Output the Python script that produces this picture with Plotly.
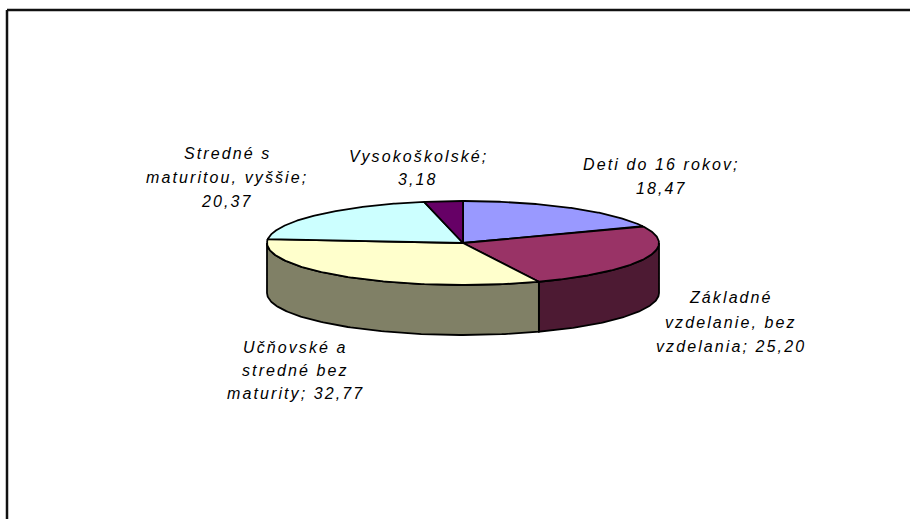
import numpy as np
import plotly.graph_objects as go

# Population by education level (share in %), one entry per slice, clockwise from 12 o'clock
name_lines = [
    ["Deti do 16 rokov"],
    ["Základné", "vzdelanie, bez", "vzdelania"],
    ["Učňovské a", "stredné bez", "maturity"],
    ["Stredné s", "maturitou, vyššie"],
    ["Vysokoškolské"],
]
shares = [18.47, 25.20, 32.77, 20.37, 3.18]
value_on_own_line = [True, False, False, True, True]

top_colors = ["#9999FF", "#993366", "#FFFFCC", "#CCFFFF", "#660066"]
side_colors = ["#4D4D80", "#4D1A33", "#808066", "#668080", "#330033"]

# label anchors: centre x, centre y of first line, line pitch
label_pos = [(661, 164, 24), (731, 297.5, 24.5), (295, 347, 23), (227, 153, 24), (418, 156.5, 23)]

W, H = 910, 519
CX, CY, RX, RY, DEPTH = 463, 243, 196, 42, 50
EDGE = dict(color="black", width=1.8)


def ellipse(theta_deg, dy=0.0):
    t = np.radians(theta_deg)
    return CX + RX * np.sin(t), CY - RY * np.cos(t) + dy


total = sum(shares)
bounds = np.concatenate([[0.0], np.cumsum(shares)]) / total * 360.0

fig = go.Figure()

# side walls (front half of the disc only)
for i in range(len(shares)):
    lo, hi = max(bounds[i], 90.0), min(bounds[i + 1], 270.0)
    if lo >= hi:
        continue
    th = np.linspace(lo, hi, 120)
    xt, yt = ellipse(th)
    xb, yb = ellipse(th[::-1], DEPTH)
    fig.add_trace(go.Scatter(
        x=np.concatenate([xt, xb, xt[:1]]), y=np.concatenate([yt, yb, yt[:1]]),
        mode="lines", fill="toself", fillcolor=side_colors[i], line=EDGE,
        hoverinfo="skip", showlegend=False))

# top faces
for i in range(len(shares)):
    th = np.linspace(bounds[i], bounds[i + 1], 160)
    xa, ya = ellipse(th)
    fig.add_trace(go.Scatter(
        x=np.concatenate([[CX], xa, [CX]]), y=np.concatenate([[CY], ya, [CY]]),
        mode="lines", fill="toself", fillcolor=top_colors[i], line=EDGE,
        hoverinfo="skip", showlegend=False))

# data labels
for i, lines in enumerate(name_lines):
    value = f"{shares[i]:.2f}".replace(".", ",")
    rows = list(lines)
    if value_on_own_line[i]:
        rows[-1] += ";"
        rows.append(value)
    else:
        rows[-1] += "; " + value
    x0, y0, pitch = label_pos[i]
    for k, row in enumerate(rows):
        fig.add_annotation(
            x=x0, y=y0 + k * pitch, xref="x", yref="y", showarrow=False,
            text=f"<span style='letter-spacing:2.1px'>{row}</span>",
            font=dict(family="Liberation Sans, Arial", size=16, color="black", style="italic"),
            xanchor="center", yanchor="middle")

# chart area border: only the top and left edges fall inside the page
border = dict(color="#111111", width=2.5)
fig.add_shape(type="line", xref="paper", yref="paper",
              x0=7 / W, x1=1.0, y0=1 - 10 / H, y1=1 - 10 / H, line=border, layer="above")
fig.add_shape(type="line", xref="paper", yref="paper",
              x0=7 / W, x1=7 / W, y0=0.0, y1=1 - 10 / H, line=border, layer="above")

fig.update_layout(
    width=W, height=H, margin=dict(l=0, r=0, t=0, b=0),
    paper_bgcolor="white", plot_bgcolor="white",
    xaxis=dict(range=[0, W], visible=False, fixedrange=True),
    yaxis=dict(range=[H, 0], visible=False, fixedrange=True),
)

fig.write_html("out.html", config={"displayModeBar": False})
